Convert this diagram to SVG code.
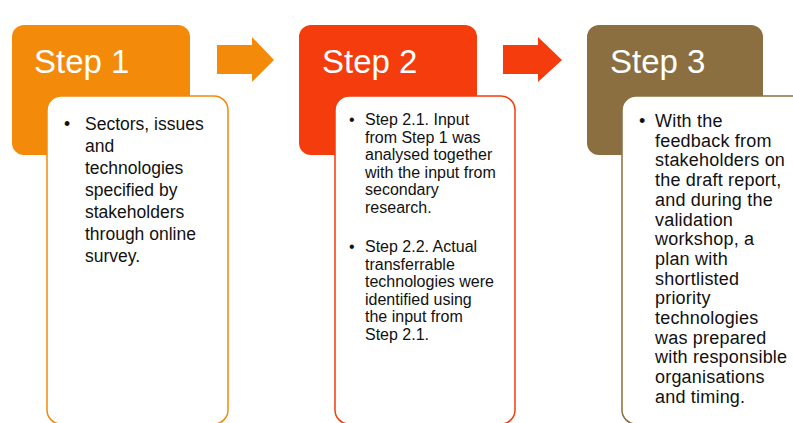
<svg xmlns="http://www.w3.org/2000/svg" width="793" height="423" viewBox="0 0 793 423">
<style>
.title{font-family:"Liberation Sans",Arial,sans-serif;font-size:33px;fill:#fff}
.body{font-family:"Liberation Sans",Arial,sans-serif;fill:#111}
.tb{fill:#fff;stroke-width:1.5}
</style>
<rect width="793" height="423" fill="#fff"/>
<g id="connectors">
<path d="M217,45 H252 V37 L274,60 L252,82 V74 H217 Z" fill="#F38A0A"/>
<path d="M503,45 H538 V37 L562,60 L538,82 V74 H503 Z" fill="#F53C0C"/>
</g>
<g id="step1">
<rect x="12" y="25" width="178" height="130" rx="12" fill="#F38A0A"/>
<text class="title" x="34" y="73">Step 1</text>
<rect class="tb" x="47" y="96" width="181" height="328" rx="14" stroke="#F38A0A"/>
<g class="body" font-size="17.5">
<text x="64" y="130">•</text>
<text x="85" y="130">Sectors, issues</text>
<text x="85" y="152">and</text>
<text x="85" y="174">technologies</text>
<text x="85" y="196">specified by</text>
<text x="85" y="218">stakeholders</text>
<text x="85" y="240">through online</text>
<text x="85" y="262">survey.</text>
</g>
</g>
<g id="step2">
<rect x="299" y="25" width="178" height="130" rx="12" fill="#F53C0C"/>
<text class="title" x="322" y="73">Step 2</text>
<rect class="tb" x="335" y="96" width="180" height="328" rx="14" stroke="#F53C0C"/>
<g class="body" font-size="16">
<text x="349" y="125">•</text>
<text x="365" y="125">Step 2.1. Input</text>
<text x="365" y="142.5">from Step 1 was</text>
<text x="365" y="160">analysed together</text>
<text x="365" y="177.5">with the input from</text>
<text x="365" y="195">secondary</text>
<text x="365" y="212.5">research.</text>
<text x="349" y="252">•</text>
<text x="365" y="252">Step 2.2. Actual</text>
<text x="365" y="269.5">transferrable</text>
<text x="365" y="287">technologies were</text>
<text x="365" y="304.5">identified using</text>
<text x="365" y="322">the input from</text>
<text x="365" y="339.5">Step 2.1.</text>
</g>
</g>
<g id="step3">
<rect x="587" y="25" width="176" height="130" rx="12" fill="#8B6F40"/>
<text class="title" x="610" y="73">Step 3</text>
<rect class="tb" x="622" y="96" width="190" height="328" rx="14" stroke="#8B6F40"/>
<g class="body" font-size="18" letter-spacing="0.2">
<text x="639" y="127">•</text>
<text x="655" y="127">With the</text>
<text x="655" y="146.7">feedback from</text>
<text x="655" y="166.4">stakeholders on</text>
<text x="655" y="186.1">the draft report,</text>
<text x="655" y="205.8">and during the</text>
<text x="655" y="225.5">validation</text>
<text x="655" y="245.2">workshop, a</text>
<text x="655" y="264.9">plan with</text>
<text x="655" y="284.6">shortlisted</text>
<text x="655" y="304.3">priority</text>
<text x="655" y="324">technologies</text>
<text x="655" y="343.7">was prepared</text>
<text x="655" y="363.4">with responsible</text>
<text x="655" y="383.1">organisations</text>
<text x="655" y="402.8">and timing.</text>
</g>
</g>
</svg>
